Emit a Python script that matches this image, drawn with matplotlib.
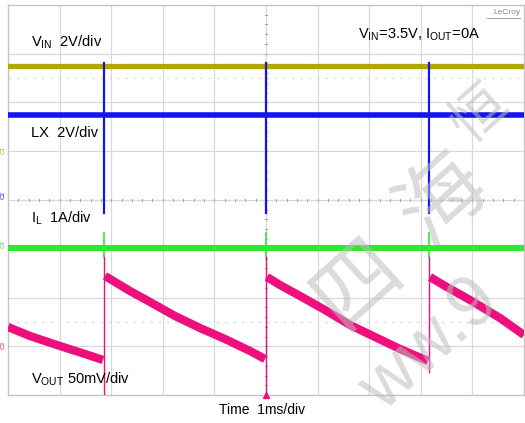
import matplotlib
matplotlib.use("Agg")
import matplotlib.pyplot as plt

plt.rcParams['font.family'] = ['Liberation Sans', 'Noto Sans CJK SC', 'DejaVu Sans']
plt.rcParams['mathtext.fontset'] = 'custom'
plt.rcParams['mathtext.rm'] = 'Liberation Sans'

# ---- data (divisions: x 0..10, y 0..8) ----
spike_t = [1.86, 5.0, 8.16]
vin_level = 6.75
lx_level = 5.74
lx_spike_top = 6.81
lx_spike_bottom = 3.73
il_level = 3.02
il_spike_top = 3.32
il_spike_bottom = 2.83

vout_seg0_t = [0.0, 0.426, 1.008, 1.492, 1.841]
vout_seg0_v = [1.395, 1.21, 1.005, 0.841, 0.718]
vout_seg1_t = [1.880, 2.074, 2.364, 2.752, 3.236, 3.721, 4.205, 4.690, 4.981]
vout_seg1_v = [2.441, 2.318, 2.133, 1.908, 1.621, 1.374, 1.149, 0.903, 0.738]
vout_seg2_t = [5.019, 5.271, 5.659, 6.143, 6.628, 7.112, 7.597, 8.140]
vout_seg2_v = [2.421, 2.256, 2.031, 1.744, 1.436, 1.190, 0.944, 0.697]
vout_seg3_t = [8.178, 8.469, 8.953, 9.535, 10.0]
vout_seg3_v = [2.421, 2.236, 1.949, 1.579, 1.231]
vout_jump_bottom = [0.0, 0.0, 0.47]

C_VIN = '#b3a800'
C_LX = '#1414f0'
C_IL = '#2ee82e'
C_VOUT = '#ec0f7c'

W, H = 525, 423
fig = plt.figure(figsize=(W / 100, H / 100), dpi=100)
fig.patch.set_facecolor('white')
ax = fig.add_axes([8 / W, (H - 395) / H, 516 / W, 390 / H])
ax.set_xlim(0, 10)
ax.set_ylim(0, 8)
ax.set_xticks([])
ax.set_yticks([])
for s in ax.spines.values():
    s.set_color('#c4c4c4')
    s.set_linewidth(1.0)

# grid
for i in range(1, 10):
    ax.axvline(i, color='#d9d9d9', lw=0.9, zorder=0)
for j in range(1, 8):
    ax.axhline(j, color='#d9d9d9', lw=0.9, zorder=0)
# center tick marks
for k in range(1, 50):
    xx = k * 0.2
    ax.plot([xx, xx], [3.97, 4.03], color='#a0a0a0', lw=0.7, zorder=0)
for k in range(1, 40):
    yy = k * 0.2
    ax.plot([4.975, 5.025], [yy, yy], color='#a0a0a0', lw=0.7, zorder=0)
# faint dotted ghost lines
ax.axhline(6.5, color='#e2e0c8', lw=1.0, ls=(0, (2, 4)), zorder=0)
ax.axhline(1.5, color='#e0e0e0', lw=1.0, ls=(0, (2, 4)), zorder=0)

# watermark
wm = dict(color='#bdbdbd', alpha=0.55, rotation=42, ha='center', va='center')
fig.text(358 / W, 1 - 283 / H, '四', fontsize=62, family=['Noto Sans CJK SC'], **wm)
fig.text(443 / W, 1 - 200 / H, '海', fontsize=62, family=['Noto Sans CJK SC'], **wm)
fig.text(480 / W, 1 - 115 / H, '恒', fontsize=40, family=['Noto Sans CJK SC'], **wm)
fig.text(430 / W, 1 - 345 / H, 'ww.9', fontsize=52, **wm)

# traces
ax.axhline(vin_level, color=C_VIN, lw=3.8, zorder=3)
ax.axhline(lx_level, color=C_LX, lw=4.0, zorder=3)
ax.axhline(il_level, color=C_IL, lw=4.4, zorder=3)
for t in spike_t:
    ax.plot([t, t], [lx_spike_bottom, lx_spike_top], color=C_LX, lw=1.6, zorder=4)
    ax.plot([t, t], [il_spike_bottom, il_spike_top], color=C_IL, lw=1.2, zorder=4)
for t, b in zip(spike_t, vout_jump_bottom):
    ax.plot([t, t], [b, 2.83], color=C_VOUT, lw=1.0, zorder=4)
for tt, vv in [(vout_seg0_t, vout_seg0_v), (vout_seg1_t, vout_seg1_v),
               (vout_seg2_t, vout_seg2_v), (vout_seg3_t, vout_seg3_v)]:
    ax.plot(tt, vv, color=C_VOUT, lw=6.0, solid_capstyle='butt', zorder=5)

# trigger marker
ax.plot([5.0], [0.0], marker='^', color=C_VOUT, ms=4, clip_on=False, zorder=6)

# channel markers
fig.text(3 / W, 1 - 150 / H, 'C1', fontsize=4.5, color=C_VIN, rotation=90, ha='center', va='center')
fig.text(3 / W, 1 - 195 / H, 'C2', fontsize=4.5, color=C_LX, rotation=90, ha='center', va='center')
fig.text(3 / W, 1 - 244 / H, 'C4', fontsize=4.5, color=C_IL, rotation=90, ha='center', va='center')
fig.text(3 / W, 1 - 345 / H, 'C3', fontsize=4.5, color=C_VOUT, rotation=90, ha='center', va='center')

# labels
fs = 10.5
fig.text(31 / W, 1 - 42 / H, r'V$_\mathregular{IN}$  2V/div', fontsize=fs, ha='left', va='center')
fig.text(31 / W, 1 - 133 / H, 'LX  2V/div', fontsize=fs, ha='left', va='center')
fig.text(31 / W, 1 - 218 / H, r'I$_\mathregular{L}$  1A/div', fontsize=fs, ha='left', va='center')
fig.text(31 / W, 1 - 379 / H, r'V$_\mathregular{OUT}$ 50mV/div', fontsize=fs, ha='left', va='center')
fig.text(358 / W, 1 - 35 / H, r'V$_\mathregular{IN}$=3.5V, I$_\mathregular{OUT}$=0A', fontsize=fs,
         ha='left', va='center')
fig.text(262 / W, 1 - 410 / H, 'Time  1ms/div', fontsize=fs - 0.5, ha='center', va='center')
fig.text(520 / W, 1 - 13 / H, 'LeCroy', fontsize=6, color='#8a8a8a', ha='right', va='center')
fig.add_artist(plt.Line2D([487 / W, 520 / W], [1 - 18 / H, 1 - 18 / H], color='#8a8a8a', lw=0.6))

fig.savefig('out.png', dpi=100, facecolor='white')
